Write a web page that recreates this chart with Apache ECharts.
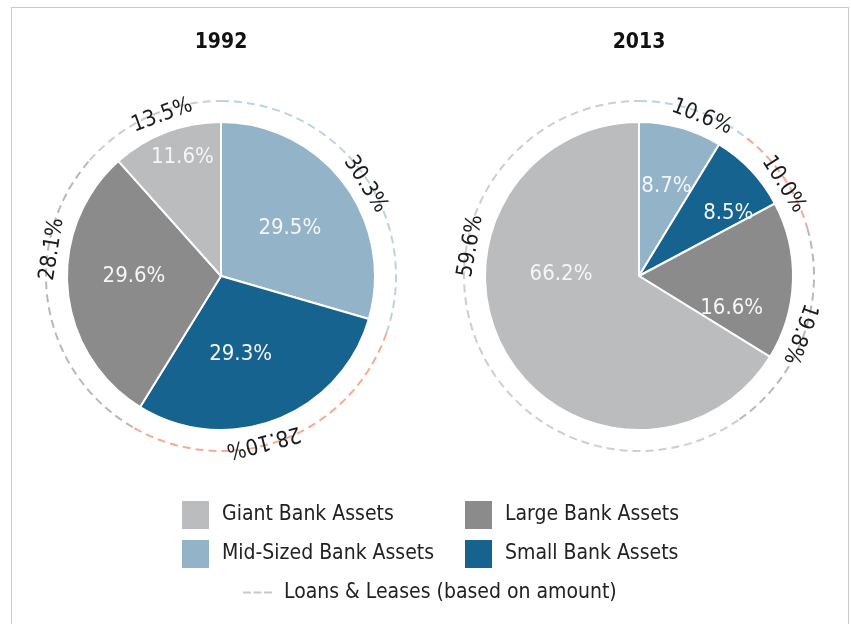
<!DOCTYPE html>
<html>
<head>
<meta charset="utf-8">
<title>Bank assets and loans, 1992 vs 2013</title>
<script src="https://cdn.jsdelivr.net/npm/echarts@6/dist/echarts.min.js"></script>
<style>
  html, body { margin: 0; padding: 0; background: #fff; overflow: hidden; }
  #frame { position: absolute; left: 11px; top: 7px; width: 836px; height: 700px; border: 1px solid #cacaca; }
  #chart { position: absolute; left: 0; top: 0; width: 851px; height: 624px; }
</style>
</head>
<body>
<div id="frame"></div>
<div id="chart"></div>
<script>
// categories, clockwise from 12 o'clock
const categories = ["Mid-Sized Bank Assets", "Small Bank Assets", "Large Bank Assets", "Giant Bank Assets"];
const years = ["1992", "2013"];

// share of assets (pie), %
const assets1992 = [29.5, 29.3, 29.6, 11.6];
const assets2013 = [8.7, 8.5, 16.6, 66.2];

// share of loans & leases (dashed ring), %
const loans1992 = [30.3, 28.1, 28.1, 13.5];
const loans2013 = [10.6, 10.0, 19.8, 59.6];
const loansText1992 = ["30.3%", "28.10%", "28.1%", "13.5%"];
const loansText2013 = ["10.6%", "10.0%", "19.8%", "59.6%"];

const loansName = "Loans & Leases (based on amount)";

// ---- look ----
const FONT = "'DejaVu Sans Condensed', 'Liberation Sans Narrow', sans-serif";
const pieColors = {
  "Mid-Sized Bank Assets": "#93b4c8",
  "Small Bank Assets": "#17638f",
  "Large Bank Assets": "#8a8b8a",
  "Giant Bank Assets": "#bbbcbe",
};
const ringColors = {
  "Mid-Sized Bank Assets": "#bcd3df",
  "Small Bank Assets": "#f5ab8f",
  "Large Bank Assets": "#b8b8b8",
  "Giant Bank Assets": "#cecece",
};
const centers = [[221, 276], [639, 276]];
const pieR = 154;
const ringR = 175;
// inner label spots: [degrees clockwise from top, distance from centre]
const innerLabelSpots = [
  [[55, 84], [166, 81], [270, 87], [342, 125]],
  [[17, 94], [55, 109], [109, 98], [271, 78]],
];
// ring label spots, in % along the ring
const ringLabelAt = [[16, 46, 77.5, 94.4], [6, 16, 30.5, 77.8]];

const assets = [assets1992, assets2013];
const loans = [loans1992, loans2013];
const loansText = [loansText1992, loansText2013];

// [radius, start, end, index] for each ring arc
const ringData = (values) => {
  let acc = 0;
  return values.map((v, i) => {
    const d = [1, acc, acc + v, i];
    acc += v;
    return d;
  });
};

const chart = echarts.init(document.getElementById("chart"), null, { renderer: "canvas" });

const pieSeries = years.map((y, k) => ({
  name: y,
  type: "pie",
  center: centers[k],
  radius: [0, pieR],
  startAngle: 90,
  clockwise: true,
  avoidLabelOverlap: false,
  silent: true,
  itemStyle: { borderColor: "#fff", borderWidth: 2 },
  label: {
    show: true,
    position: "inside",
    formatter: "{c}%",
    color: "#f4f6f8",
    fontSize: 22,
    fontFamily: FONT,
  },
  labelLine: { show: false },
  labelLayout: (p) => {
    const [deg, dist] = innerLabelSpots[k][p.dataIndex];
    const t = (deg * Math.PI) / 180;
    return {
      x: centers[k][0] + dist * Math.sin(t),
      y: centers[k][1] - dist * Math.cos(t),
      align: "center",
      verticalAlign: "middle",
    };
  },
  data: categories.map((c, i) => ({
    name: c,
    value: assets[k][i],
    itemStyle: { color: pieColors[c] },
  })),
}));

const ringSeries = years.map((y, k) => ({
  name: loansName,
  type: "custom",
  coordinateSystem: "polar",
  polarIndex: k,
  silent: true,
  itemStyle: { color: "#c8c8c8" },
  renderItem: (params, api) => {
    const cs = params.coordSys;
    const i = api.value(3);
    const p0 = api.coord([1, api.value(1)]);
    const p1 = api.coord([1, api.value(2)]);
    const pl = api.coord([(ringR - 4) / ringR, ringLabelAt[k][i]]);
    const ang = Math.atan2(pl[1] - cs.cy, pl[0] - cs.cx);
    return {
      type: "group",
      children: [
        {
          type: "arc",
          shape: {
            cx: cs.cx,
            cy: cs.cy,
            r: cs.r,
            startAngle: Math.atan2(p0[1] - cs.cy, p0[0] - cs.cx),
            endAngle: Math.atan2(p1[1] - cs.cy, p1[0] - cs.cx),
            clockwise: true,
          },
          style: {
            fill: "none",
            stroke: ringColors[categories[i]],
            lineWidth: 2,
            lineDash: [8, 5],
          },
        },
        {
          type: "text",
          x: pl[0],
          y: pl[1],
          rotation: -(ang + Math.PI / 2),
          style: {
            text: loansText[k][i],
            fill: "#1c1c1c",
            fontSize: 22,
            fontFamily: FONT,
            align: "center",
            verticalAlign: "middle",
          },
        },
      ],
    };
  },
  data: ringData(loans[k]),
}));

const legendCommon = {
  orient: "vertical",
  top: 499,
  padding: 0,
  itemWidth: 29,
  itemHeight: 30,
  itemGap: 7,
  icon: "rect",
  selectedMode: false,
  textStyle: { fontSize: 21, color: "#222", fontFamily: FONT, padding: [6, 0, 0, 7] },
};

const option = {
  animation: false,
  title: years.map((y, k) => ({
    text: y,
    left: centers[k][0],
    top: 32,
    padding: 0,
    textAlign: "center",
    textStyle: { fontSize: 21, fontWeight: "bold", color: "#111", fontFamily: FONT },
  })),
  legend: [
    Object.assign({}, legendCommon, { left: 180, data: ["Giant Bank Assets", "Mid-Sized Bank Assets"] }),
    Object.assign({}, legendCommon, { left: 463, data: ["Large Bank Assets", "Small Bank Assets"] }),
    Object.assign({}, legendCommon, {
      left: 243,
      top: 582,
      itemHeight: 2,
      data: [{
        name: loansName,
        icon: "path://M0,0h8v2h-8zM10.5,0h8v2h-8zM21,0h8v2h-8z",
        itemStyle: { color: "#c8c8c8" },
      }],
    }),
  ],
  polar: centers.map((c) => ({ center: c, radius: [0, ringR] })),
  angleAxis: years.map((y, k) => ({
    polarIndex: k,
    type: "value",
    min: 0,
    max: 100,
    startAngle: 90,
    clockwise: true,
    axisLine: { show: false },
    axisTick: { show: false },
    axisLabel: { show: false },
    splitLine: { show: false },
  })),
  radiusAxis: years.map((y, k) => ({
    polarIndex: k,
    type: "value",
    min: 0,
    max: 1,
    axisLine: { show: false },
    axisTick: { show: false },
    axisLabel: { show: false },
    splitLine: { show: false },
  })),
  series: [...pieSeries, ...ringSeries],
};

chart.setOption(option);
</script>
</body>
</html>
